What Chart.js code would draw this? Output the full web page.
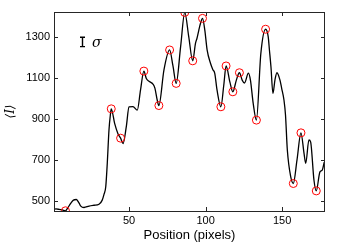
<!DOCTYPE html>
<html>
<head>
<meta charset="utf-8">
<script src="https://cdn.jsdelivr.net/npm/chart.js@4"></script>
<style>
html,body{margin:0;padding:0;background:#fff;}
canvas{display:block;}
</style>
</head>
<body>
<canvas id="c" width="349" height="245"></canvas>
<script>
// Profile positions (pixels) and mean intensity <I>
const positions = [0.6,2.2,4.3,6.4,8.5,9.7,11.9,13.7,15.6,17.4,18.5,20.6,23.9,27.1,30.4,32.5,33.7,34.8,35.8,36.9,37.8,38.4,40.6,42.7,44.5,46.1,48.2,50.0,52.6,55.4,57.5,59.7,61.3,63.3,65.6,66.9,68.4,69.5,72.8,76.5,78.7,80.8,83.7,86.4,89.0,91.6,93.4,94.4,95.6,96.7,98.0,99.5,101.0,103.2,104.7,106.0,107.5,110.0,111.9,113.4,115.9,117.8,120.1,122.1,123.9,125.4,128.0,129.3,131.1,133.2,136.1,139.2,140.9,141.7,142.7,144.0,145.3,146.6,148.6,149.7,151.2,152.2,153.4,155.6,157.3,159.7,162.3,164.3,165.4,167.5,168.6,170.8,172.3,174.7,176.2,177.5];
const intensity = [459,462,460,457,453,464,489,505,508,490,476,469,476,480,485,505,534,570,685,846,920,950,879,830,807,781,862,959,961,944,1041,1134,1098,1083,1071,1051,993,966,1139,1237,1159,1074,1253,1420,1302,1184,1269,1294,1334,1367,1391,1334,1237,1172,1142,1123,1041,960,1066,1159,1080,1033,1090,1126,1090,1076,1124,1090,977,895,1220,1338,1302,1237,1155,1025,1090,1126,1090,1050,993,920,749,619,586,700,833,733,684,798,789,602,550,643,651,690];
// Local extrema (red circles)
const extremaX = [8.5,38.4,44.5,59.7,69.5,76.5,80.8,86.4,91.6,98.0,110.0,113.4,117.8,122.1,133.2,139.2,157.3,162.3,172.3];
const extremaY = [453,950,807,1134,966,1237,1074,1420,1184,1391,960,1159,1033,1126,895,1338,586,833,550];
// Axis ticks
const xTicks = [50,100,150];
const yTicks = [500,700,900,1100,1300];
// sigma scale bar
const sigmaX = 19.5, sigmaY = 1276, sigmaHalf = 23, sigmaLabelX = 29;

const lineData = positions.map((x,i)=>({x:x,y:intensity[i]}));
const markData = extremaX.map((x,i)=>({x:x,y:extremaY[i]}));

const boxPlugin = {
  id:'box',
  afterDraw(chart){
    const ctx = chart.ctx, a = chart.chartArea;
    const xs = chart.scales.x, ys = chart.scales.y;
    ctx.save();
    ctx.strokeStyle = '#262626';
    ctx.lineWidth = 1;
    ctx.strokeRect(Math.round(a.left)+0.5, Math.round(a.top)+0.5, Math.round(a.right-a.left)-1, Math.round(a.bottom-a.top));
    const tl = 4;
    ctx.beginPath();
    xTicks.forEach(v=>{
      const px = Math.round(xs.getPixelForValue(v))+0.5;
      ctx.moveTo(px,a.bottom); ctx.lineTo(px,a.bottom-tl);
      ctx.moveTo(px,a.top); ctx.lineTo(px,a.top+tl);
    });
    yTicks.forEach(v=>{
      const py = Math.round(ys.getPixelForValue(v))+0.5;
      ctx.moveTo(a.left,py); ctx.lineTo(a.left+tl,py);
      ctx.moveTo(a.right,py); ctx.lineTo(a.right-tl,py);
    });
    ctx.stroke();
    // sigma bar
    const bx = Math.round(xs.getPixelForValue(sigmaX))+0.5;
    const bt = ys.getPixelForValue(sigmaY+sigmaHalf);
    const bb = ys.getPixelForValue(sigmaY-sigmaHalf);
    ctx.strokeStyle = '#000';
    ctx.lineWidth = 1.4;
    ctx.beginPath();
    ctx.moveTo(bx,bt); ctx.lineTo(bx,bb);
    ctx.moveTo(bx-2.5,bt); ctx.lineTo(bx+2.5,bt);
    ctx.moveTo(bx-2.5,bb); ctx.lineTo(bx+2.5,bb);
    ctx.stroke();
    ctx.fillStyle = '#000';
    ctx.font = "italic 14px 'DejaVu Serif'";
    ctx.textAlign = 'center';
    ctx.textBaseline = 'middle';
    ctx.fillText('σ', xs.getPixelForValue(sigmaLabelX), ys.getPixelForValue(sigmaY)+1);
    ctx.restore();
  }
};

new Chart(document.getElementById('c'), {
  type:'line',
  data:{
    datasets:[
      {data:markData, showLine:false, pointRadius:4, pointHoverRadius:4, pointBorderColor:'#ff0000', pointBackgroundColor:'rgba(0,0,0,0)', pointBorderWidth:1, order:0},
      {data:lineData, borderColor:'#000', borderWidth:1.3, pointRadius:0, cubicInterpolationMode:'monotone', fill:false, order:1}
    ]
  },
  options:{
    responsive:false,
    animation:false,
    layout:{padding:{top:12,right:24,left:0,bottom:0}},
    plugins:{legend:{display:false},tooltip:{enabled:false}},
    scales:{
      x:{
        type:'linear', min:1, max:178,
        afterBuildTicks(s){ s.ticks = xTicks.map(v=>({value:v})); },
        afterFit(s){ s.height = 34; },
        grid:{display:false, drawTicks:false},
        border:{display:false},
        ticks:{padding:3, color:'#000', font:{family:"'Liberation Sans', Arial", size:11}, callback:(v)=>String(v)},
        title:{display:true, text:'Position (pixels)', color:'#000', padding:{top:0,bottom:2}, font:{family:"'Liberation Sans', Arial", size:13}}
      },
      y:{
        type:'linear', min:452, max:1422,
        afterBuildTicks(s){ s.ticks = yTicks.map(v=>({value:v})); },
        afterFit(s){ s.width = 54; },
        grid:{display:false, drawTicks:false},
        border:{display:false},
        ticks:{padding:4, color:'#000', font:{family:"'Liberation Sans', Arial", size:11}, callback:(v)=>String(v)},
        title:{display:true, text:'⟨I⟩', color:'#000', padding:{top:4,bottom:0}, font:{family:"'DejaVu Serif'", size:12, style:'italic'}}
      }
    }
  },
  plugins:[boxPlugin]
});
</script>
</body>
</html>
